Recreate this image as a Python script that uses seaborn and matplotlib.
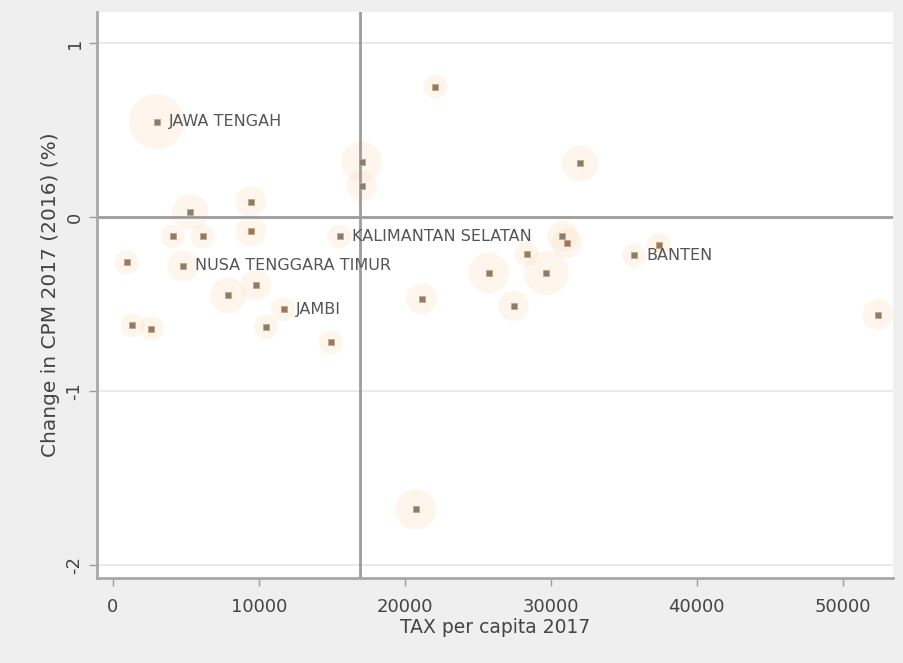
import numpy as np
import pandas as pd
import matplotlib.pyplot as plt
import seaborn as sns

# PAD per capita 2017 vs change
tax_pc = [3000, 22100, 17050, 17050, 32000, 5300, 9450, 4100, 6150, 9450,
          950, 4800, 9800, 7900, 11700, 1350, 2650, 10500, 14950, 15550,
          20750, 21150, 25750, 27450, 28350, 29700, 30800, 31100, 37400, 35700,
          52400]
change = [0.55, 0.75, 0.32, 0.18, 0.31, 0.03, 0.09, -0.11, -0.11, -0.08,
          -0.26, -0.28, -0.39, -0.45, -0.53, -0.62, -0.64, -0.63, -0.72, -0.11,
          -1.68, -0.47, -0.32, -0.51, -0.21, -0.32, -0.11, -0.15, -0.16, -0.22,
          -0.56]
weight = [9, 2, 5, 3, 4, 4, 3, 2, 2, 3,
          2, 3, 3, 4, 2, 2, 2, 2, 2, 2,
          5, 3, 5, 3, 2, 6, 3, 3, 2, 2,
          3]
labels = ['JAWA TENGAH', '', '', '', '', '', '', '', '', '',
          '', 'NUSA TENGGARA TIMUR', '', '', 'JAMBI', '', '', '', '', 'KALIMANTAN SELATAN',
          '', '', '', '', '', '', '', '', '', 'BANTEN',
          '']
mean_tax = 16900

df = pd.DataFrame({'tax': tax_pc, 'change': change, 'w': weight, 'label': labels})

sns.set_style('white')
plt.rcParams['font.family'] = ['DejaVu Sans']

fig = plt.figure(figsize=(9.04, 6.63), dpi=100, facecolor='#efefef')
ax = fig.add_axes([0.107, 0.128, 0.881, 0.854])
ax.set_facecolor('white')

# weight halos
sns.scatterplot(data=df, x='tax', y='change', size='w', sizes=(300, 1600),
                color='#fbd3a8', alpha=0.2, edgecolor='none', legend=False, ax=ax, zorder=1)
# markers
sns.scatterplot(data=df, x='tax', y='change', s=22, marker='s', color='#8a7d70',
                edgecolor='#c9a47e', linewidth=0.6, legend=False, ax=ax, zorder=3)

for _, r in df[df['label'] != ''].iterrows():
    ax.annotate(r['label'], (r['tax'], r['change']), xytext=(9, 0), textcoords='offset points',
                va='center', ha='left', fontsize=11.5, color='#555555', zorder=4)

ax.axhline(0, color='#9c9c9c', lw=2, zorder=2)
ax.axvline(mean_tax, color='#9c9c9c', lw=2, zorder=2)
for yv in [1, -1, -2]:
    ax.axhline(yv, color='#e6e6e6', lw=1.2, zorder=0)

ax.set_xlim(-1100, 53450)
ax.set_ylim(-2.075, 1.18)
ax.set_xticks([0, 10000, 20000, 30000, 40000, 50000])
ax.set_yticks([-2, -1, 0, 1])
ax.set_yticklabels(['-2', '-1', '0', '1'], rotation=90, va='center')
ax.tick_params(axis='both', length=6, width=1, color='#9c9c9c', labelsize=13,
               labelcolor='#444444', left=True, bottom=True)
ax.tick_params(axis='x', pad=8)

for side in ['top', 'right']:
    ax.spines[side].set_visible(False)
for side in ['left', 'bottom']:
    ax.spines[side].set_color('#a8a8a8')
    ax.spines[side].set_linewidth(2)

ax.set_xlabel('TAX per capita 2017', fontsize=13.5, color='#444444', labelpad=2)
ax.set_ylabel('Change in CPM 2017 (2016) (%)', fontsize=14.5, color='#444444', labelpad=4)

plt.savefig('out.png', dpi=100, facecolor=fig.get_facecolor())
